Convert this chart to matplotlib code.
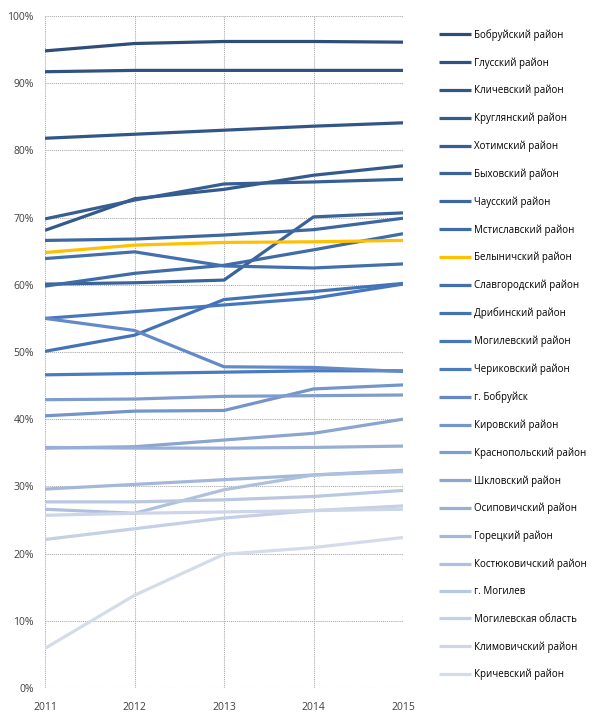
import matplotlib
matplotlib.use("Agg")
import matplotlib.pyplot as plt
from matplotlib.ticker import FuncFormatter, MultipleLocator

plt.rcParams['font.family'] = ['Open Sans', 'DejaVu Sans']

years = [2011, 2012, 2013, 2014, 2015]

names = [
    "Бобруйский район", "Глусский район", "Кличевский район", "Круглянский район",
    "Хотимский район", "Быховский район", "Чаусский район", "Мстиславский район",
    "Белыничский район", "Славгородский район", "Дрибинский район", "Могилевский район",
    "Чериковский район", "г. Бобруйск", "Кировский район", "Краснопольский район",
    "Шкловский район", "Осиповичский район", "Горецкий район", "Костюковичский район",
    "г. Могилев", "Могилевская область", "Климовичский район", "Кричевский район",
]

bobruysky      = [94.8, 95.9, 96.2, 96.2, 96.1]
glussky        = [91.7, 91.9, 91.9, 91.9, 91.9]
klichevsky     = [81.8, 82.4, 83.0, 83.6, 84.1]
kruglyansky    = [68.1, 72.8, 74.2, 76.3, 77.7]
khotimsky      = [69.8, 72.6, 75.0, 75.3, 75.7]
bykhovsky      = [60.1, 60.3, 60.7, 70.1, 70.7]
chaussky       = [66.6, 66.8, 67.4, 68.2, 69.9]
mstislavsky    = [59.8, 61.7, 62.9, 65.2, 67.6]
belynichsky    = [64.8, 65.9, 66.3, 66.4, 66.6]
slavgorodsky   = [63.9, 64.9, 62.8, 62.5, 63.1]
dribinsky      = [50.1, 52.5, 57.8, 59.0, 60.2]
mogilevsky     = [55.0, 56.0, 57.0, 58.0, 60.1]
cherikovsky    = [46.6, 46.8, 47.0, 47.2, 47.2]
g_bobruysk     = [55.0, 53.2, 47.8, 47.7, 47.1]
kirovsky       = [40.5, 41.2, 41.3, 44.5, 45.1]
krasnopolsky   = [42.9, 43.0, 43.4, 43.5, 43.6]
shklovsky      = [35.7, 35.9, 36.9, 37.9, 40.0]
osipovichsky   = [35.8, 35.7, 35.7, 35.8, 36.0]
goretsky       = [29.6, 30.3, 31.0, 31.7, 32.4]
kostyukovichsky= [26.6, 26.0, 29.5, 31.7, 32.2]
g_mogilev      = [27.7, 27.7, 28.0, 28.5, 29.4]
oblast         = [22.1, 23.7, 25.3, 26.4, 27.1]
klimovichsky   = [25.7, 26.0, 26.2, 26.4, 26.6]
krichevsky     = [5.9, 13.8, 19.9, 20.9, 22.4]

series = [bobruysky, glussky, klichevsky, kruglyansky, khotimsky, bykhovsky, chaussky,
          mstislavsky, belynichsky, slavgorodsky, dribinsky, mogilevsky, cherikovsky,
          g_bobruysk, kirovsky, krasnopolsky, shklovsky, osipovichsky, goretsky,
          kostyukovichsky, g_mogilev, oblast, klimovichsky, krichevsky]

colors = ["#2E4E77", "#305282", "#325686", "#345A8C", "#365E92", "#3A6399", "#3D679F",
          "#3F6BA6", "#FFC000", "#426FAD", "#4473B5", "#4677BC", "#4A7AC0", "#6389C7",
          "#7395CA", "#7F9DCC", "#8BA5CF", "#97AFD4", "#A3B8D9", "#AEC0DD", "#B9C8E1",
          "#C3D0E5", "#CCD6E8", "#D4DCEB"]

fig = plt.figure(figsize=(6, 7.25), dpi=100)
ax = fig.add_axes([0.075, 0.051, 0.5967, 0.927])

lines = []
for i, (nm, vals) in enumerate(zip(names, series)):
    z = 3 if i == 8 else 2
    ln, = ax.plot(years, vals, color=colors[i], lw=2.3, label=nm, zorder=z,
                  solid_capstyle='butt')
    lines.append(ln)

ax.set_xlim(2011, 2015)
ax.set_ylim(0, 100)
ax.set_xticks(years)
ax.yaxis.set_major_locator(MultipleLocator(10))
ax.yaxis.set_major_formatter(FuncFormatter(lambda v, p: f"{int(v)}%"))
ax.grid(True, color="#A6A6A6", linestyle=(0, (1, 1)), lw=0.75)
ax.set_axisbelow(True)
for s in ax.spines.values():
    s.set_visible(False)
ax.tick_params(length=0, labelsize=7.5, colors="#404040", pad=8)
ax.tick_params(axis='x', pad=10)

leg = fig.legend(handles=lines, loc='upper left', bbox_to_anchor=(0.725, 0.9655),
                 frameon=False, fontsize=7, handlelength=3.3, handletextpad=0.3,
                 labelspacing=1.68, borderaxespad=0)

fig.savefig("out.png", dpi=100)
